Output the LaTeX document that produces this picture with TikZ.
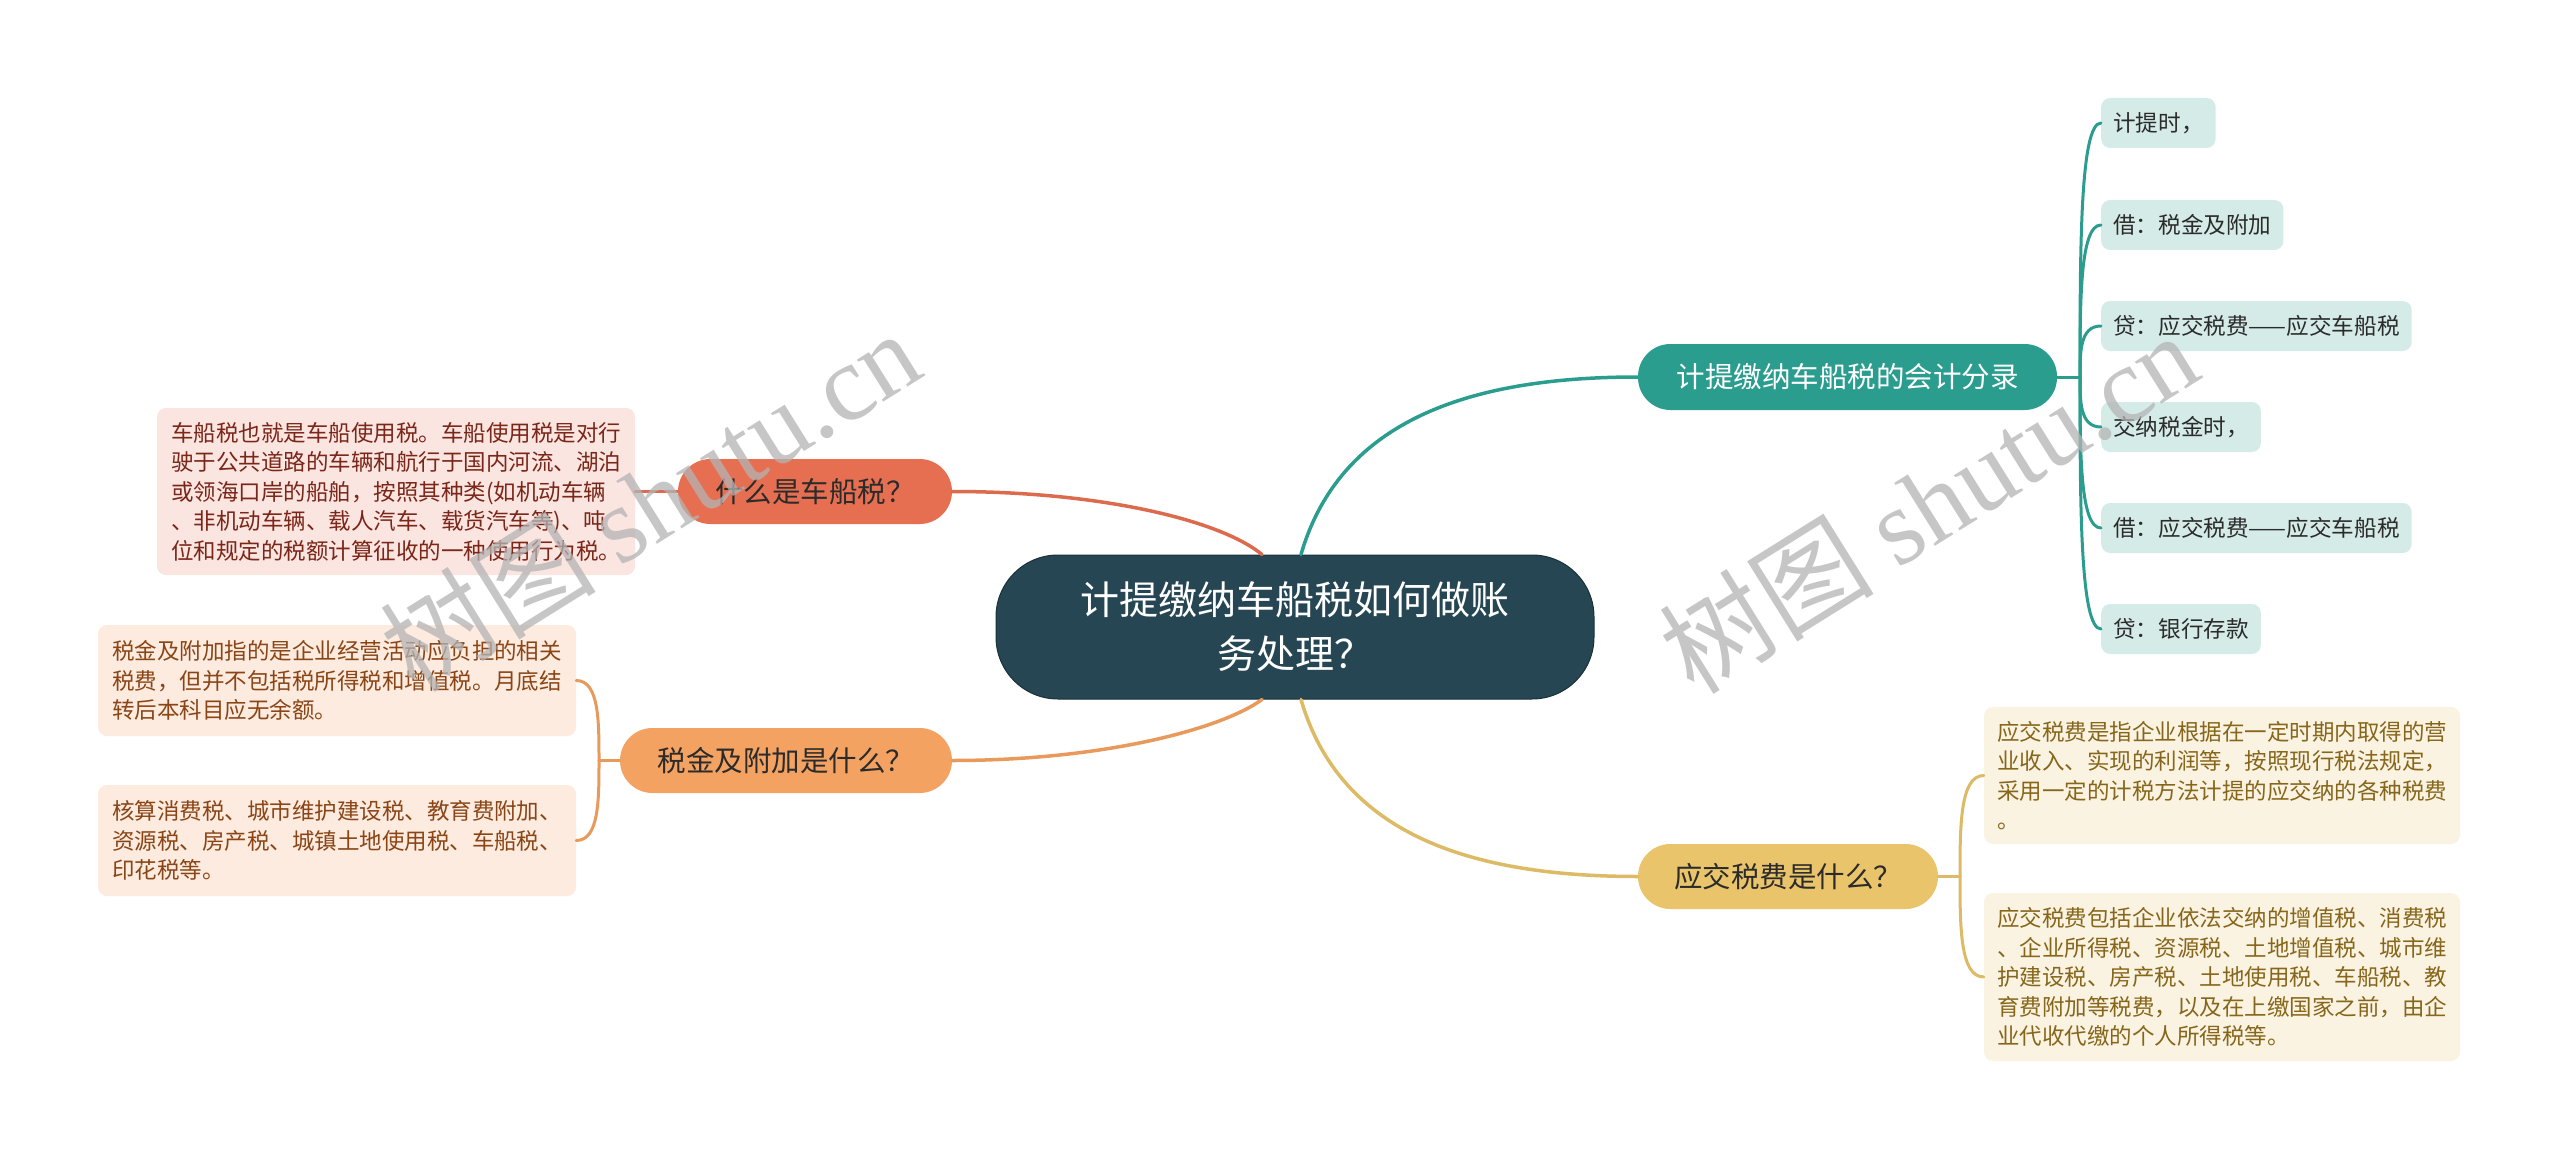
\documentclass[tikz,border=0pt]{standalone}
\usepackage{fontspec}
\setmainfont{Noto Sans CJK SC}
\newfontfamily\wmserif{Liberation Serif}
\usetikzlibrary{calc}
\definecolor{cdark}{HTML}{264653}
\definecolor{cteal}{HTML}{2A9D8F}
\definecolor{cgold}{HTML}{E9C46A}
\definecolor{corange}{HTML}{F4A261}
\definecolor{cred}{HTML}{E76F51}
\definecolor{lteal}{HTML}{D5EBE8}
\definecolor{lgold}{HTML}{FBF3E2}
\definecolor{lorange}{HTML}{FDEBDF}
\definecolor{lred}{HTML}{FBE5E0}
\definecolor{tgold}{HTML}{86661A}
\definecolor{torange}{HTML}{8A4516}
\definecolor{tred}{HTML}{7A2618}
\definecolor{tdark}{HTML}{2B2B2B}
\definecolor{wm}{HTML}{B4B4B4}
\tikzset{
  pill/.style={rounded corners=32.5pt, minimum height=65pt, inner xsep=0pt, inner ysep=0pt,
    text=tdark, font=\fontsize{28.5}{34}\selectfont},
  leafbox/.style={rounded corners=9pt, align=left, inner xsep=11pt, inner ysep=0pt,
    font=\fontsize{22.5}{29.5}\selectfont},
  tleaf/.style={rounded corners=9pt, fill=lteal, text=tdark, anchor=west, inner xsep=12pt,
    inner ysep=0pt, minimum height=50pt, font=\fontsize{22.6}{26}\selectfont},
  conn/.style={line width=3pt, line cap=round},
  wmark/.style={text=wm, text opacity=0.75, rotate=32, inner sep=0pt},
}
\begin{document}
\begin{tikzpicture}[x=1pt,y=-1pt]
\useasboundingbox[fill=white] (0,0) rectangle (2560,1161);

% ---------------- nodes ----------------
\node[rounded corners=62pt, fill=cdark, draw=cdark!70!black, line width=1pt,
  minimum width=598pt, minimum height=144pt, text=white, align=center,
  font=\fontsize{39}{54}\selectfont] (root) at (1295,627)
  {计提缴纳车船税如何做账\\务处理？};

\node[pill, fill=cteal, text=white, minimum width=419pt, minimum height=66pt] (b1) at (1847.5,377)
  {计提缴纳车船税的会计分录};
\node[pill, fill=cgold, minimum width=300pt] (b2) at (1788,876.5) {应交税费是什么？};
\node[pill, fill=cred, minimum width=274pt] (b3) at (815,491.5) {什么是车船税？};
\node[pill, fill=corange, minimum width=332pt] (b4) at (786,760.5) {税金及附加是什么？};

% teal leaves
\node[tleaf] (t1) at (2101,123) {计提时，};
\node[tleaf] (t2) at (2101,225) {借：税金及附加};
\node[tleaf] (t3) at (2101,326) {贷：应交税费——应交车船税};
\node[tleaf] (t4) at (2101,427) {交纳税金时，};
\node[tleaf] (t5) at (2101,528) {借：应交税费——应交车船税};
\node[tleaf] (t6) at (2101,629) {贷：银行存款};

% gold leaves
\node[leafbox, fill=lgold, text=tgold, minimum width=476pt, minimum height=137pt] (g1) at (2222,775.5)
  {应交税费是指企业根据在一定时期内取得的营\\业收入、实现的利润等，按照现行税法规定，\\采用一定的计税方法计提的应交纳的各种税费\\。};
\node[leafbox, fill=lgold, text=tgold, minimum width=476pt, minimum height=168pt] (g2) at (2222,977)
  {应交税费包括企业依法交纳的增值税、消费税\\、企业所得税、资源税、土地增值税、城市维\\护建设税、房产税、土地使用税、车船税、教\\育费附加等税费，以及在上缴国家之前，由企\\业代收代缴的个人所得税等。};

% red leaf
\node[leafbox, fill=lred, text=tred, minimum width=478pt, minimum height=167pt] (r1) at (396,491.5)
  {车船税也就是车船使用税。车船使用税是对行\\驶于公共道路的车辆和航行于国内河流、湖泊\\或领海口岸的船舶，按照其种类(如机动车辆\\、非机动车辆、载人汽车、载货汽车等)、吨\\位和规定的税额计算征收的一种使用行为税。};

% orange leaves
\node[leafbox, fill=lorange, text=torange, minimum width=478pt, minimum height=111pt] (o1) at (337,680.5)
  {税金及附加指的是企业经营活动应负担的相关\\税费，但并不包括税所得税和增值税。月底结\\转后本科目应无余额。};
\node[leafbox, fill=lorange, text=torange, minimum width=478pt, minimum height=111pt] (o2) at (337,840.5)
  {核算消费税、城市维护建设税、教育费附加、\\资源税、房产税、城镇土地使用税、车船税、\\印花税等。};

% hub points
\coordinate (h1) at (2080,377);
\coordinate (h2) at (1960,876.5);
\coordinate (h4) at (599,760.5);

% ---------------- connectors ----------------
\draw[conn, cteal, line width=3.5pt] ($(root.north)+(6,0)$) .. controls (1340,420) and (1470,377) .. (b1.west);
\draw[conn, cgold!95!black, line width=3.5pt] ($(root.south)+(6,0)$) .. controls (1340,834) and (1470,876.5) .. (b2.west);
\draw[conn, cred!95!black, line width=3.5pt] (b3.east) .. controls (1100,491.5) and (1220,520) .. ($(root.north)+(-33,0)$);
\draw[conn, corange!95!black, line width=3.5pt] (b4.east) .. controls (1100,760.5) and (1220,730) .. ($(root.south)+(-33,0)$);

% teal bracket
\draw[conn, cteal] (b1.east) -- (h1);
\foreach \t in {t1,t2,t3,t4,t5,t6}{
  \draw[conn, cteal] (h1) .. controls ($(h1)!0.5!(h1 |- \t.west)$) and (h1 |- \t.west) .. (\t.west);
}
% gold bracket
\draw[conn, cgold!95!black] (b2.east) -- (h2);
\foreach \t in {g1,g2}{
  \draw[conn, cgold!95!black] (h2) .. controls ($(h2)!0.5!(h2 |- \t.west)$) and (h2 |- \t.west) .. (\t.west);
}
% red
\draw[conn, cred!95!black] (r1.east) -- (b3.west);
% orange bracket
\draw[conn, corange!95!black] (b4.west) -- (h4);
\foreach \t in {o1,o2}{
  \draw[conn, corange!95!black] (h4) .. controls ($(h4)!0.5!(h4 |- \t.east)$) and (h4 |- \t.east) .. (\t.east);
}

% ---------------- watermarks ----------------
\node[wmark] (wm1) at (650,500) {\fontsize{108}{118}\selectfont 树图 {\wmserif shutu.cn}};
\node[wmark] (wm2) at (1928,502) {\fontsize{108}{118}\selectfont 树图 {\wmserif shutu.cn}};
\end{tikzpicture}
\end{document}
